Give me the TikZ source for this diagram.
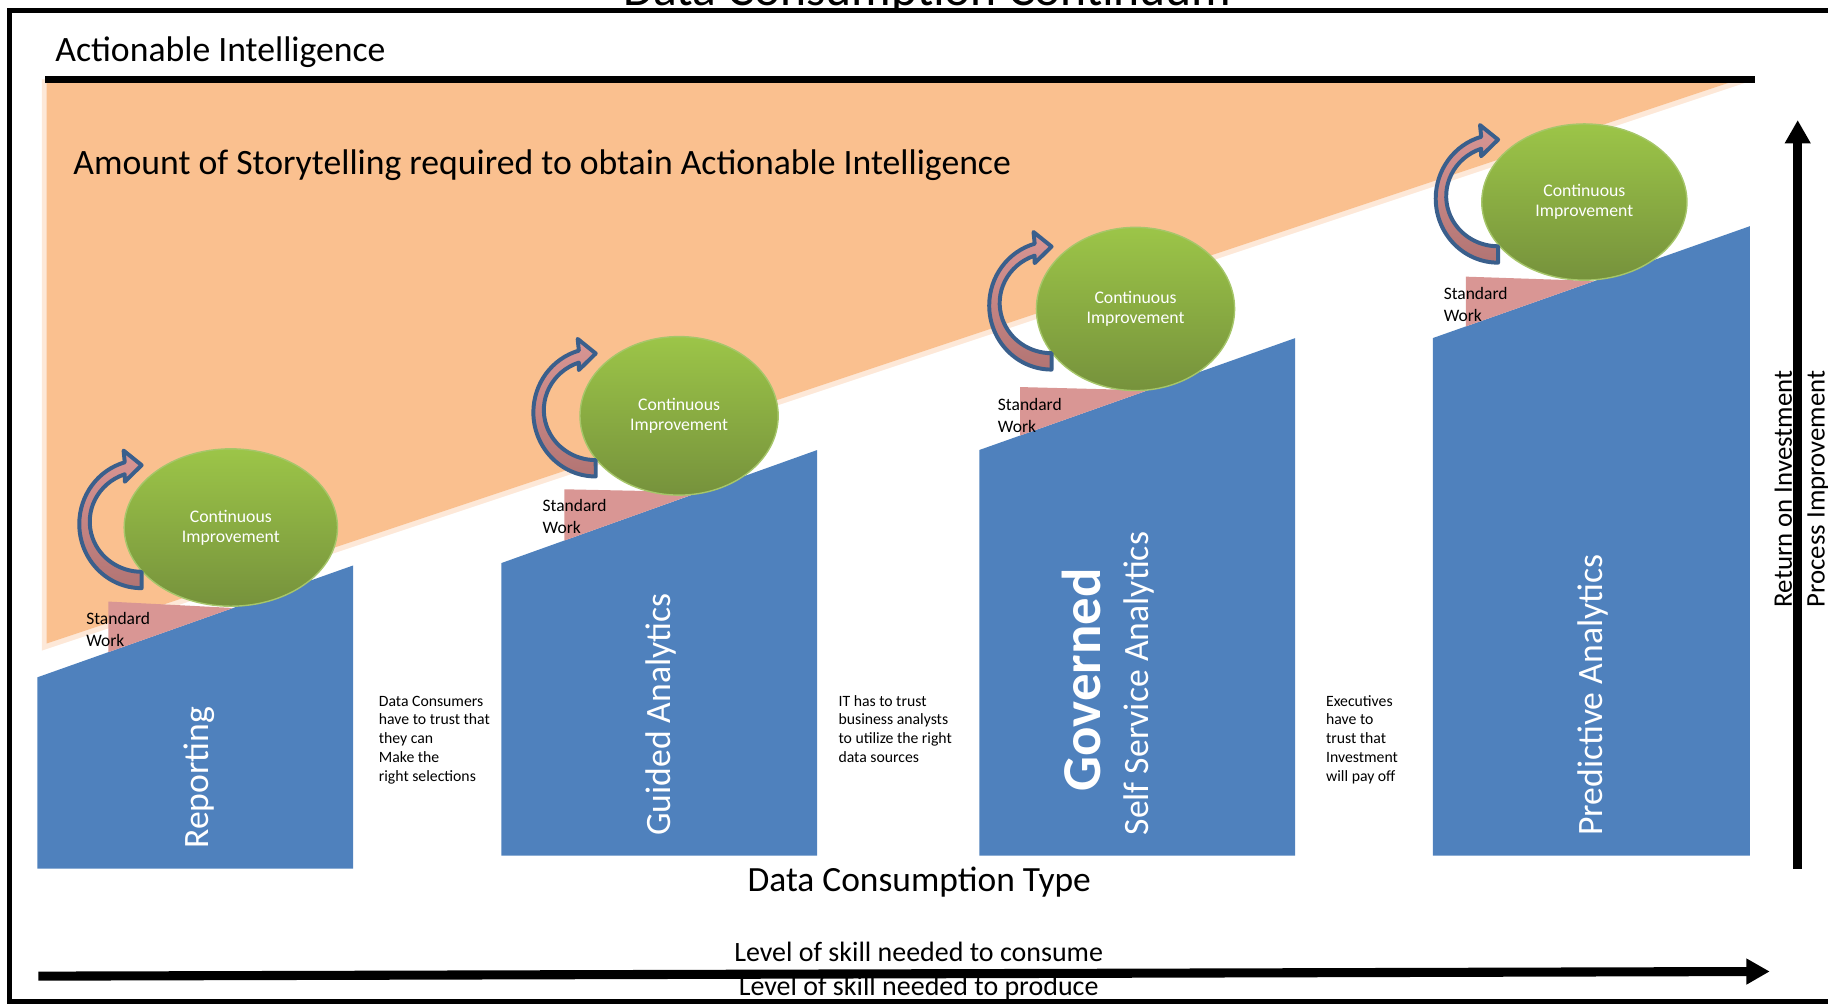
\documentclass[tikz,border=0pt]{standalone}
\usepackage{fontspec}
\setmainfont{Carlito}
\usetikzlibrary{shapes.geometric,arrows.meta,calc}

\definecolor{barblue}{HTML}{4F81BD}
\definecolor{story}{HTML}{FAC08F}
\definecolor{storyedge}{HTML}{FDE8D8}
\definecolor{stdpink}{HTML}{D99694}
\definecolor{loopdark}{HTML}{B27473}
\definecolor{loopblue}{HTML}{3A5F8C}
\definecolor{citop}{HTML}{9CC548}
\definecolor{cibot}{HTML}{76923C}
\definecolor{ciedge}{HTML}{A6C66A}

\newcommand{\fsz}[2]{\fontsize{#1}{#2}\selectfont}

\tikzset{pics/ciloop/.style={code={
  \draw[draw=loopblue, line width=3.4pt, line join=round, top color=stdpink, bottom color=loopdark]
    (0,52) arc[start angle=90, end angle=254.3, x radius=53.5, y radius=55]
    -- (-15.5,-66) -- (0,-53.5) -- (-14.5,-39.3) -- (-14.5,-45.7)
    arc[start angle=251, end angle=90, x radius=44.5, y radius=43] -- cycle;
}}}

\begin{document}
\begin{tikzpicture}[x=1pt, y=-1pt, every node/.style={inner sep=0pt, outer sep=0pt},
    bar/.style={fill=barblue},
    barlabel/.style={rotate=90, anchor=base west, text=white, font=\fsz{30.6}{36}},
    sw/.style={fill=stdpink},
    stdwork/.style={anchor=base west, align=left, font=\fsz{15}{18.7}},
    ci/.style={ellipse, draw=ciedge, line width=1.2pt, top color=citop, bottom color=cibot,
      text=white, align=center, font=\fsz{15.2}{17.3}},
    gap/.style={anchor=base west, align=left, font=\fsz{13.5}{16.2}},
    axis/.style={line width=7.8pt, -{Triangle[length=20pt, width=21pt]}}]
  \useasboundingbox (0,0) rectangle (1568,861);

  % frame and headings
  \draw[line width=4pt] (8,9) rectangle (1590,859);
  \node[anchor=base, font=\fsz{42.5}{50}] (title) at (795.5,5) {Data Consumption Continuum};
  \node[anchor=base west, font=\fsz{30.6}{36}] (ai) at (47.5,53) {Actionable Intelligence};

  % storytelling wedge
  \fill[storyedge] (36,68) -- (1506,68) -- (36,558) -- cycle;
  \fill[story] (40,68) -- (1492,68) -- (40,552) -- cycle;
  \draw[line width=6pt] (39,68) -- (1505,68);
  \node[anchor=base west, font=\fsz{30.6}{36}] (story) at (63,150)
    {Amount of Storytelling required to obtain Actionable Intelligence};

  % consumption types
  \fill[bar] (32,745) -- (32,581) -- (303,485) -- (303,745) -- cycle;
  \fill[bar] (430,734) -- (430,483) -- (701,386) -- (701,734) -- cycle;
  \fill[bar] (840,734) -- (840,386) -- (1111,290) -- (1111,734) -- cycle;
  \fill[bar] (1229,734) -- (1229,290) -- (1501,194) -- (1501,734) -- cycle;

  \node[barlabel] (rep) at (178.5,728) {Reporting};
  \node[barlabel] (guided) at (575,717) {Guided Analytics};
  \node[barlabel, font=\bfseries\fsz{47}{50}] (gov) at (943.6,679) {Governed};
  \node[barlabel] (selfserv) at (985,716.5) {Self Service Analytics};
  \node[barlabel] (predict) at (1374.5,717) {Predictive Analytics};

  % standard work wedges (base = last line)
  \fill[sw] (93,516) -- (93,559.4) -- (200,521.5) -- cycle;
  \fill[sw] (484,419.7) -- (484,463.7) -- (600,422.1) -- cycle;
  \fill[sw] (875,332) -- (875,373.6) -- (984.5,334.8) -- cycle;
  \fill[sw] (1257.4,237.3) -- (1257.4,280) -- (1367.7,241) -- cycle;

  \node[stdwork] (sw1) at (74,554.7) {Standard\\Work};
  \node[stdwork] (sw2) at (465.5,457.6) {Standard\\Work};
  \node[stdwork] (sw3) at (856,370.7) {Standard\\Work};
  \node[stdwork] (sw4) at (1238.4,275.7) {Standard\\Work};

  % continuous improvement
  \node[ci, minimum width=183pt, minimum height=135pt] (ci1) at (198,452.5) {Continuous\\Improvement};
  \node[ci, minimum width=170pt, minimum height=136pt] (ci2) at (582.5,356.7) {Continuous\\Improvement};
  \node[ci, minimum width=170pt, minimum height=140pt] (ci3) at (974,265) {Continuous\\Improvement};
  \node[ci, minimum width=176pt, minimum height=134pt] (ci4) at (1359,173.3) {Continuous\\Improvement};

  \pic at ($(ci1.center)+(-76.5,0)$) {ciloop};
  \pic at ($(ci2.center)+(-71.5,0)$) {ciloop};
  \pic at ($(ci3.center)+(-72,0)$) {ciloop};
  \pic at ($(ci4.center)+(-74,0)$) {ciloop};

  % trust notes
  \node[gap] (trust1) at (325,670.4) {Data Consumers\\have to trust that\\they can\\Make the\\right selections};
  \node[gap] (trust2) at (719.3,654.2) {IT has to trust\\business analysts\\to utilize the right\\data sources};
  \node[gap] (trust3) at (1137.5,670.4) {Executives\\have to\\trust that\\Investment\\will pay off};

  % axes
  \node[anchor=base, font=\fsz{30.4}{36}] (ctype) at (788.5,765) {Data Consumption Type};
  \coordinate (xstart) at (33,837.3);
  \coordinate (xend) at (1518,833.3);
  \draw[axis] (xstart) -- (xend);
  \node[anchor=base, font=\fsz{24}{28}] (consume) at (788,825) {Level of skill needed to consume};
  \node[anchor=base, font=\fsz{24}{28}] (produce) at (788,853.5) {Level of skill needed to produce};

  \coordinate (ystart) at (1542,745);
  \coordinate (yend) at (1542,103);
  \draw[axis, line width=7.5pt] (ystart) -- (yend);
  \node[rotate=90, anchor=base east, font=\fsz{23}{28}] (roi) at (1537,318) {Return on Investment};
  \node[rotate=90, anchor=base east, font=\fsz{23}{28}] (procimp) at (1565,318) {Process Improvement};
\end{tikzpicture}
\end{document}
